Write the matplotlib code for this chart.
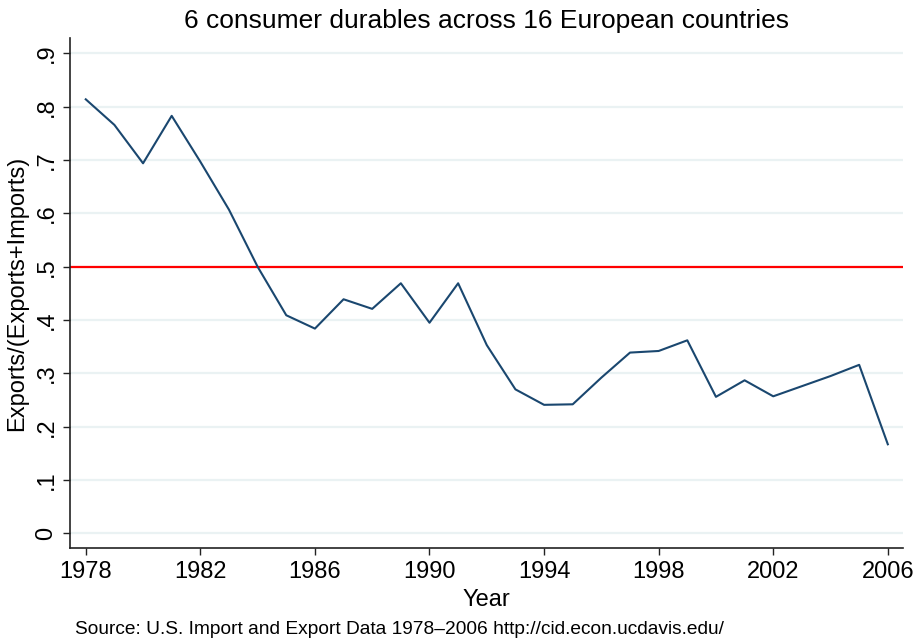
import matplotlib.pyplot as plt

# data
years = list(range(1978, 2007))
share = [0.814, 0.766, 0.694, 0.783, 0.697, 0.607, 0.500, 0.409, 0.384, 0.439,
         0.421, 0.469, 0.395, 0.469, 0.353, 0.270, 0.241, 0.242, 0.292, 0.339,
         0.342, 0.362, 0.256, 0.287, 0.257, 0.276, 0.295, 0.316, 0.167]
x_ticks = [1978, 1982, 1986, 1990, 1994, 1998, 2002, 2006]
y_ticks = [0, 0.1, 0.2, 0.3, 0.4, 0.5, 0.6, 0.7, 0.8, 0.9]
y_tick_labels = ["0", ".1", ".2", ".3", ".4", ".5", ".6", ".7", ".8", ".9"]
ref_level = 0.5

plt.rcParams['font.family'] = ['Liberation Sans', 'DejaVu Sans']

fig = plt.figure(figsize=(9.14, 6.42), dpi=100)
ax = fig.add_axes([70 / 914, 94 / 642, 833 / 914, 510 / 642])

for y in y_ticks:
    ax.axhline(y, color='#eaf2f3', lw=1.6, zorder=0)
ax.axhline(ref_level, color='#ff0000', lw=1.6, zorder=2)
ax.plot(years, share, color='#1a476f', lw=1.5, zorder=3)

ax.set_xlim(1977.45, 2006.53)
ax.set_ylim(-0.0275, 0.929)
ax.set_xticks(x_ticks)
ax.set_yticks(y_ticks)
ax.set_yticklabels(y_tick_labels, rotation=90, va='center')

for s in ['top', 'right']:
    ax.spines[s].set_visible(False)
for s in ['left', 'bottom']:
    ax.spines[s].set_color('#222222')
    ax.spines[s].set_linewidth(1.2)
ax.tick_params(axis='both', direction='out', length=5, width=1, color='#222222',
               labelsize=17, pad=4)

ax.set_title("6 consumer durables across 16 European countries", fontsize=19, pad=7)
ax.set_xlabel("Year", fontsize=17, labelpad=5)
ax.set_ylabel("Exports/(Exports+Imports)", fontsize=17, labelpad=5)

fig.text(75 / 914, 1 - 630 / 642, "Source: U.S. Import and Export Data 1978\u20132006 http://cid.econ.ucdavis.edu/",
         fontsize=13.8, va='center', ha='left')

fig.savefig("out.png", dpi=100, facecolor='white')
